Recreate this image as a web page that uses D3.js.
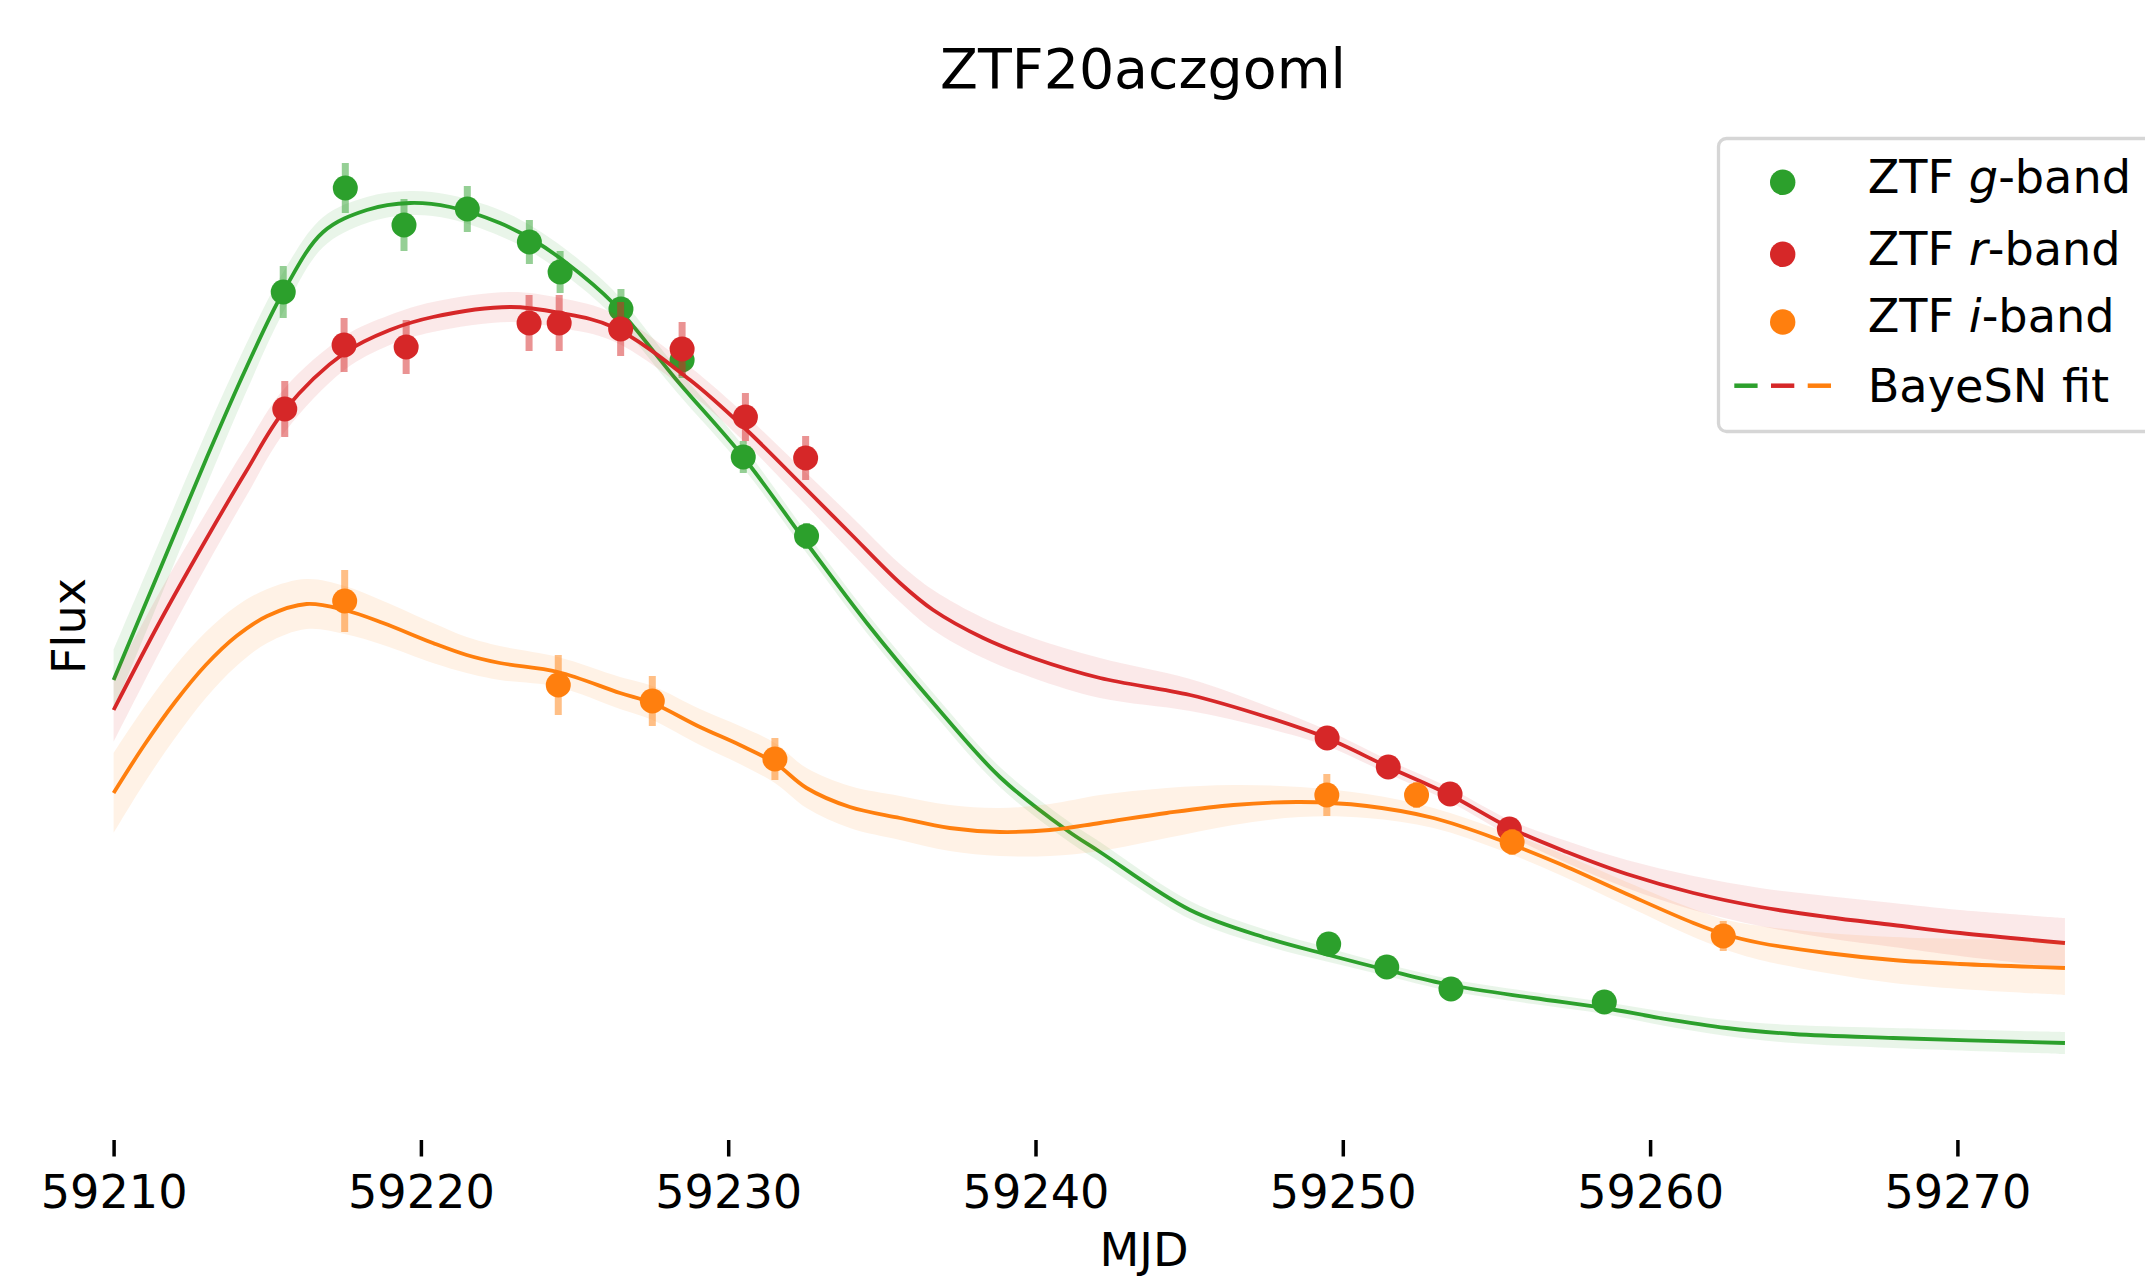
<!DOCTYPE html>
<html>
<head>
<meta charset="utf-8">
<script src="https://cdn.jsdelivr.net/npm/d3@7"></script>
<style>
  body { margin: 0; background: #fff; }
  svg text { font-family: "DejaVu Sans", sans-serif; fill: #000; }
</style>
</head>
<body>
<div id="chart"></div>
<script>

//Observations, g-band
var gObsMJD  = [59215.52, 59217.54, 59219.45, 59221.51, 59223.53, 59224.53, 59226.51, 59228.50, 59230.49, 59232.55, 59249.54, 59251.43, 59253.52, 59258.51];
var gObsFlux = [808, 912, 875, 891, 858, 828, 791, 740, 643, 564, 156, 133, 111, 98];
var gObsErr  = [26, 25, 26, 23, 22, 21, 20, 18, 16, 13, 8, 7, 7, 7];

//Observations, r-band
var rObsMJD  = [59215.57, 59217.50, 59219.52, 59223.52, 59224.50, 59226.50, 59228.50, 59230.56, 59232.52, 59249.49, 59251.48, 59253.49, 59255.42];
var rObsFlux = [691, 755, 753, 777, 777, 771, 751, 683, 642, 362, 333, 306, 271];
var rObsErr  = [28, 27, 27, 28, 28, 27, 27, 24, 22, 12, 10, 10, 10];

//Observations, i-band
var iObsMJD  = [59217.52, 59224.47, 59227.53, 59231.52, 59249.48, 59252.40, 59255.51, 59262.38];
var iObsFlux = [499, 415, 399, 341, 305, 305, 258, 164];
var iObsErr  = [31, 30, 25, 21, 21, 13, 13, 15];

//BayeSN fit, g-band (mean and 1 sigma)
var gFitMJD  = [59210.0, 59211.5, 59213.0, 59214.3, 59215.52, 59216.82, 59218.24, 59219.65, 59220.95, 59222.57, 59223.65, 59224.74, 59226.25, 59228.32, 59230.49, 59232.55, 59234.51, 59236.67, 59238.84, 59241.01, 59242.10, 59245.03, 59247.52, 59249.54, 59251.43, 59253.48, 59256.20, 59258.51, 59260.32, 59262.49, 59264.66, 59267.91, 59273.50];
var gFitFlux = [420, 530, 640, 731, 808, 868, 890, 897, 893, 877, 860, 837, 797, 720, 643, 557, 477, 397, 323, 270, 248, 190, 162, 145, 130, 115, 102, 92, 82, 72, 66, 62, 57];
var gFitSig  = [30, 29, 27, 24, 20, 15, 13, 12, 12, 13, 13, 13, 13, 12, 11, 10, 10, 10, 10, 10, 10, 9, 8, 7, 6, 6, 6, 6, 7, 8, 9, 10, 11];

//BayeSN fit, r-band
var rFitMJD  = [59210.0, 59211.5, 59213.0, 59214.3, 59215.57, 59217.51, 59218.99, 59220.39, 59222.90, 59224.53, 59226.25, 59228.76, 59230.60, 59232.34, 59233.96, 59235.59, 59236.67, 59238.30, 59239.92, 59242.10, 59245.03, 59247.52, 59249.48, 59251.48, 59253.49, 59255.44, 59257.29, 59259.24, 59261.41, 59263.58, 59265.75, 59267.91, 59270.09, 59273.50];
var rFitFlux = [390, 478, 560, 628, 690, 747, 770, 783, 793, 787, 773, 720, 670, 617, 567, 517, 490, 462, 442, 422, 405, 383, 362, 333, 305, 272, 248, 226, 207, 193, 183, 175, 167, 157];
var rFitSig  = [32, 30, 27, 25, 22, 17, 15, 15, 15, 15, 14, 13, 14, 16, 18, 19, 20, 20, 20, 20, 16, 11, 8, 7, 7, 8, 11, 14, 17, 19, 21, 22, 23, 25];

//BayeSN fit, i-band
var iFitMJD  = [59210.0, 59211.0, 59212.0, 59213.0, 59214.0, 59215.0, 59216.28, 59217.52, 59218.77, 59220.39, 59221.49, 59222.57, 59224.46, 59226.48, 59227.53, 59229.08, 59230.38, 59231.52, 59232.55, 59233.96, 59235.59, 59237.21, 59238.84, 59240.47, 59242.10, 59244.27, 59246.44, 59248.61, 59250.78, 59252.95, 59255.11, 59257.07, 59259.24, 59261.41, 59262.5, 59263.58, 59265.75, 59267.91, 59270.09, 59273.50];
var iFitFlux = [307, 355, 398, 435, 464, 484, 496, 490, 477, 457, 445, 437, 428, 407, 397, 373, 355, 337, 312, 293, 282, 272, 268, 270, 277, 287, 295, 298, 294, 282, 260, 236, 206, 177, 165, 157, 147, 140, 136, 132];
var iFitSig  = [40, 38, 36, 33, 30, 27, 25, 24, 22, 20, 18, 17, 15, 16, 17, 18, 19, 20, 20, 21, 22, 23, 24, 26, 28, 25, 20, 15, 12, 10, 10, 11, 12, 14, 15, 17, 20, 23, 25, 27];

var xTicks = [59210, 59220, 59230, 59240, 59250, 59260, 59270];
var legendLabels = [["g", "-band"], ["r", "-band"], ["i", "-band"]];

function setChart(){

    var width = 2145,
        height = 1279;

    var svg = d3.select('#chart')
        .append('svg')
        .attr('width', width)
        .attr('height', height);

    //scales (flux in arbitrary units)
    var x = d3.scaleLinear()
        .domain([59210, 59270])
        .range([113.6, 1957.4]);

    var y = d3.scaleLinear()
        .domain([0, 1000])
        .range([1100, 100]);

    var bands = [
        {color: '#2ca02c', mjd: gObsMJD, flux: gObsFlux, err: gObsErr, fm: gFitMJD, ff: gFitFlux, fs: gFitSig},
        {color: '#d62728', mjd: rObsMJD, flux: rObsFlux, err: rObsErr, fm: rFitMJD, ff: rFitFlux, fs: rFitSig},
        {color: '#ff7f0e', mjd: iObsMJD, flux: iObsFlux, err: iObsErr, fm: iFitMJD, ff: iFitFlux, fs: iFitSig}
    ];

    var area = d3.area()
        .x(function(d){ return x(d[0]); })
        .y0(function(d){ return y(d[1] - d[2]); })
        .y1(function(d){ return y(d[1] + d[2]); })
        .curve(d3.curveCatmullRom.alpha(0.5));

    var line = d3.line()
        .x(function(d){ return x(d[0]); })
        .y(function(d){ return y(d[1]); })
        .curve(d3.curveCatmullRom.alpha(0.5));

    bands.forEach(function(b){
        var fit = b.fm.map(function(m, i){ return [m, b.ff[i], b.fs[i]]; });
        var obs = b.mjd.map(function(m, i){ return [m, b.flux[i], b.err[i]]; });
        var g = svg.append('g');

        g.append('path')
            .datum(fit)
            .attr('d', area)
            .attr('fill', b.color)
            .attr('fill-opacity', 0.1);

        g.append('path')
            .datum(fit)
            .attr('d', line)
            .attr('fill', 'none')
            .attr('stroke', b.color)
            .attr('stroke-width', 3.8);

        g.selectAll('.err')
            .data(obs)
            .enter()
            .append('line')
            .attr('x1', function(d){ return x(d[0]); })
            .attr('x2', function(d){ return x(d[0]); })
            .attr('y1', function(d){ return y(d[1] - d[2]); })
            .attr('y2', function(d){ return y(d[1] + d[2]); })
            .attr('stroke', b.color)
            .attr('stroke-opacity', 0.5)
            .attr('stroke-width', 7);

        g.selectAll('.pt')
            .data(obs)
            .enter()
            .append('circle')
            .attr('cx', function(d){ return x(d[0]); })
            .attr('cy', function(d){ return y(d[1]); })
            .attr('r', 12.5)
            .attr('fill', b.color);
    });

    //x axis, no spine
    var xAxis = svg.append('g')
        .attr('transform', 'translate(0,1140)')
        .call(d3.axisBottom(x).tickValues(xTicks).tickFormat(d3.format('d')).tickSize(16.5));
    xAxis.select('.domain').remove();
    xAxis.selectAll('.tick line').attr('stroke', '#000').attr('stroke-width', 3.5);
    xAxis.selectAll('.tick text')
        .attr('y', 68)
        .attr('dy', 0)
        .style('font-size', '46.2px')
        .style('font-family', '"DejaVu Sans", sans-serif');

    svg.append('text')
        .attr('x', 1144)
        .attr('y', 1266)
        .attr('text-anchor', 'middle')
        .style('font-size', '46.2px')
        .text('MJD');

    svg.append('text')
        .attr('transform', 'translate(85,626) rotate(-90)')
        .attr('text-anchor', 'middle')
        .style('font-size', '46.2px')
        .text('Flux');

    svg.append('text')
        .attr('x', 1143)
        .attr('y', 88)
        .attr('text-anchor', 'middle')
        .style('font-size', '55.4px')
        .text('ZTF20aczgoml');

    //legend
    var leg = svg.append('g');
    leg.append('rect')
        .attr('x', 1718.5)
        .attr('y', 138.5)
        .attr('width', 520)
        .attr('height', 293)
        .attr('rx', 8)
        .attr('fill', '#fff')
        .attr('fill-opacity', 0.8)
        .attr('stroke', '#d6d6d6')
        .attr('stroke-width', 3.3);

    var rowY = [192.7, 265, 332.3];
    var dotY = [182.3, 254.3, 322];
    bands.forEach(function(b, i){
        leg.append('circle')
            .attr('cx', 1782.7)
            .attr('cy', dotY[i])
            .attr('r', 12.7)
            .attr('fill', b.color);
        var t = leg.append('text')
            .attr('x', 1867.7)
            .attr('y', rowY[i])
            .style('font-size', '46.2px');
        t.append('tspan').text('ZTF ');
        t.append('tspan').style('font-style', 'italic').text(legendLabels[i][0]);
        t.append('tspan').text(legendLabels[i][1]);
    });

    var dashX = [1734.3, 1771, 1807.7];
    bands.forEach(function(b, i){
        leg.append('line')
            .attr('x1', dashX[i])
            .attr('x2', dashX[i] + 23.3)
            .attr('y1', 385.7)
            .attr('y2', 385.7)
            .attr('stroke', b.color)
            .attr('stroke-width', 4.5);
    });
    leg.append('text')
        .attr('x', 1867.7)
        .attr('y', 401.7)
        .style('font-size', '46.2px')
        .text('BayeSN fit');
}

window.onload = setChart();
</script>
</body>
</html>
